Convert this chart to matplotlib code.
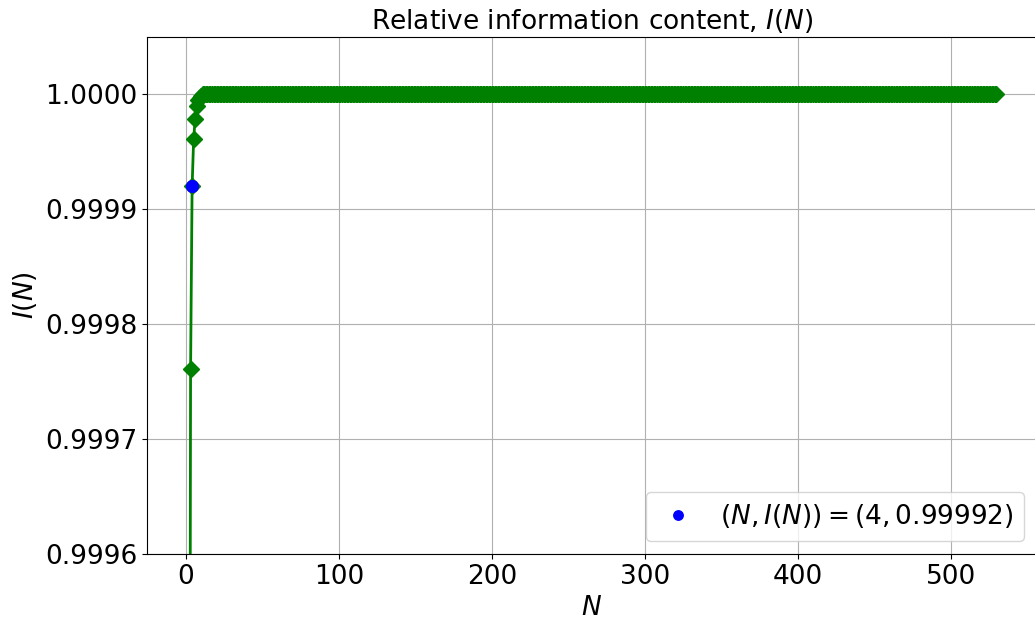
import matplotlib
matplotlib.use("Agg")
import matplotlib.pyplot as plt
from matplotlib.ticker import FormatStrFormatter

# Relative information content I(N) for N = 2 .. 530
n_head = [2, 3, 4, 5, 6, 7, 8, 9, 10, 11]
i_head = [0.99900, 0.999761, 0.99992, 0.999961, 0.999979, 0.999990,
          0.999995, 0.999997, 0.999999, 1.000000]
n_tail = list(range(12, 531))
i_tail = [1.0] * len(n_tail)

n_values = n_head + n_tail
i_values = i_head + i_tail

# highlighted point
n_mark = 4
i_mark = 0.99992

y_ticks = [0.9996, 0.9997, 0.9998, 0.9999, 1.0000]
x_ticks = [0, 100, 200, 300, 400, 500]

plt.rcParams['font.size'] = 19
plt.rcParams['mathtext.fontset'] = 'dejavusans'

fig = plt.figure(figsize=(10.35, 6.21), dpi=100)
ax = fig.add_axes([147 / 1035, (621 - 554) / 621, 890 / 1035, 517 / 621])

ax.plot(n_values, i_values, color='green', marker='D', markersize=8,
        linewidth=2, zorder=2)
ax.plot([n_mark], [i_mark], 'o', color='blue', markersize=8.5, zorder=3,
        label=r'$(N, I(N)) = (%d, %.5f)$' % (n_mark, i_mark))

ax.set_xlim(-25.5, 556.5)
ax.set_ylim(0.9996, 1.00005)
ax.set_xticks(x_ticks)
ax.set_yticks(y_ticks)
ax.yaxis.set_major_formatter(FormatStrFormatter('%.4f'))
ax.grid(True, color='#b0b0b0', linewidth=0.8)
ax.set_axisbelow(True)

ax.set_title(r'Relative information content, $I(N)$', fontsize=19)
ax.set_xlabel(r'$N$', fontsize=19)
ax.set_ylabel(r'$I(N)$', fontsize=19)
ax.legend(loc='lower right', fontsize=19, markerscale=0.8, handlelength=1.6)

fig.savefig('out.png', dpi=100)
